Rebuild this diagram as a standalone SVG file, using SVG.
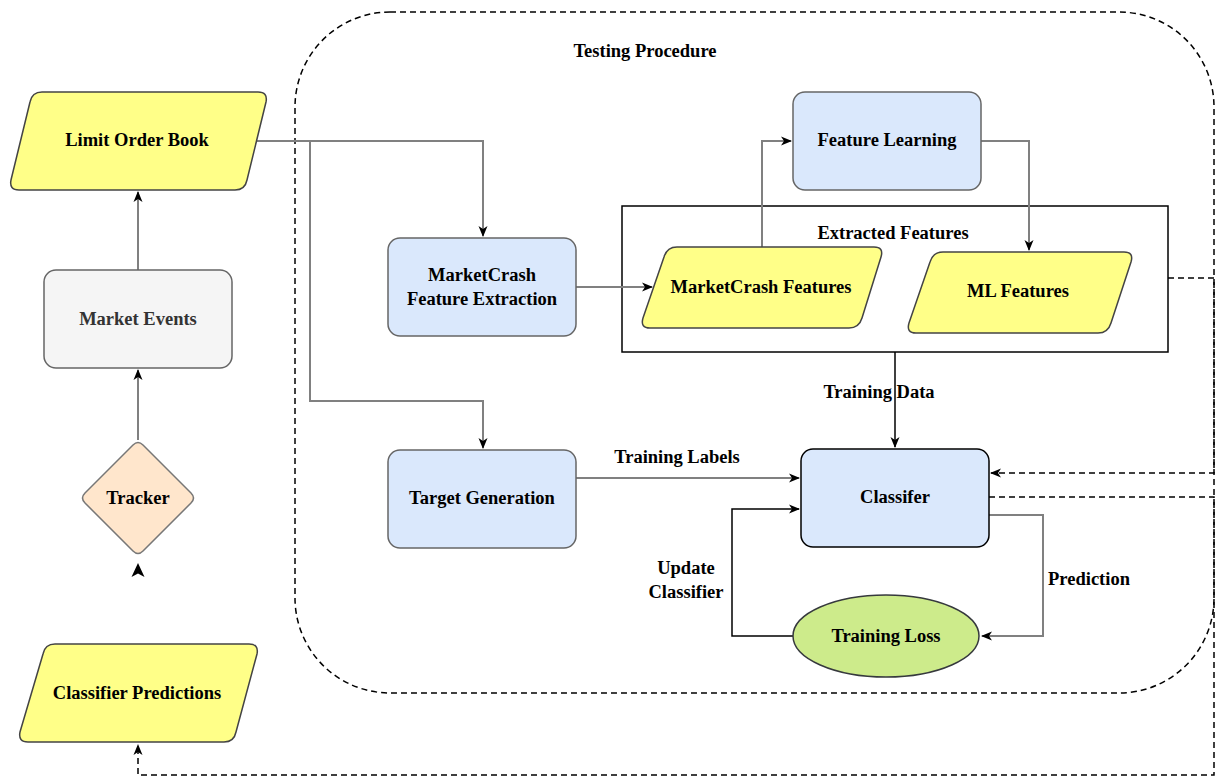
<svg xmlns="http://www.w3.org/2000/svg" width="1220" height="776" viewBox="0 0 1220 776">
<style>
text{font-family:"Liberation Serif","Times New Roman",serif;font-weight:bold;font-size:18.5px;fill:#000;text-anchor:middle}
.box{stroke:#666;stroke-width:1.5}
.blue{fill:#dae8fc}
.yel{fill:#ffff88;stroke:#444;stroke-width:1.5}
.g{fill:none;stroke:#808080;stroke-width:2}
.k{fill:none;stroke:#000;stroke-width:1.5}
.d{fill:none;stroke:#000;stroke-width:1.5;stroke-dasharray:6 4}
</style>
<defs>
<marker id="ag" markerUnits="userSpaceOnUse" markerWidth="12" markerHeight="10" refX="10" refY="5" orient="auto"><path d="M0,0.5 L11,5 L0,9.5 L3,5 Z" fill="#000"/></marker>
<marker id="ak" markerUnits="userSpaceOnUse" markerWidth="12" markerHeight="10" refX="10" refY="5" orient="auto"><path d="M0,0.5 L11,5 L0,9.5 L3,5 Z" fill="#000"/></marker>
</defs>
<rect x="295" y="12" width="919" height="681" rx="95" ry="95" class="d"/>
<text x="645" y="57">Testing  Procedure</text>

<g id="extracted-features">
<rect x="622" y="206" width="546" height="146" fill="#fff" stroke="#000" stroke-width="1.5"/>
<text x="893" y="239">Extracted Features</text>
</g>

<g id="connectors">
<path class="g" d="M257,141 H483 V236" marker-end="url(#ag)"/>
<path class="g" d="M310,141 V401 H483 V448" marker-end="url(#ag)"/>
<path class="g" d="M576,287 H652" marker-end="url(#ag)"/>
<path class="g" d="M762,247 V141 H791" marker-end="url(#ag)"/>
<path class="g" d="M981,141 H1029 V250" marker-end="url(#ag)"/>
<path class="k" d="M895,352 V447" marker-end="url(#ak)"/>
<path class="g" d="M576,478 H799" marker-end="url(#ag)"/>
<path class="g" d="M989,515 H1043 V636 H982" marker-end="url(#ag)"/>
<path class="k" d="M793,636 H732 V509 H799" marker-end="url(#ak)"/>
<path class="g" d="M138,440 V370" marker-end="url(#ag)"/>
<path class="g" d="M138,270 V192" marker-end="url(#ag)"/>
<path class="d" d="M1168,278 H1214 V473 H991" marker-end="url(#ak)"/>
<path class="d" d="M989,497 H1214 V775 H138 V745" marker-end="url(#ak)"/>
<path d="M138,563 L144.5,577 L138,573.5 L131.5,577 Z" fill="#000"/>
<text x="879" y="398">Training Data</text>
<text x="677" y="463">Training Labels</text>
<text x="1089" y="585">Prediction</text>
<text x="686" y="574">Update</text>
<text x="686" y="598">Classifier</text>
</g>

<g id="limit-order-book">
<path class="yel" d="M42,92 L258,92 Q268,92 266,102 L247,180 Q245,190 235,190 L19,190 Q9,190 11,180 L30,102 Q32,92 42,92 Z"/>
<text x="137" y="146">Limit Order Book</text>
</g>
<g id="market-events">
<rect x="44" y="270" width="188" height="98" rx="12" fill="#f5f5f5" stroke="#666" stroke-width="1.5"/>
<text x="138" y="325" style="fill:#333">Market Events</text>
</g>
<g id="tracker">
<path d="M133,445 Q138,440 143,445 L191,493 Q196,498 191,503 L143,551 Q138,556 133,551 L85,503 Q80,498 85,493 Z" fill="#ffe6cc" stroke="#777" stroke-width="1.5"/>
<text x="138" y="504">Tracker</text>
</g>
<g id="classifier-predictions">
<path class="yel" d="M55,644 L249,644 Q259,644 257,654 L236,732 Q234,742 224,742 L28,742 Q18,742 20,732 L43,654 Q45,644 55,644 Z"/>
<text x="137" y="699">Classifier Predictions</text>
</g>
<g id="feature-extraction">
<rect x="388" y="238" width="188" height="98" rx="12" class="box blue"/>
<text x="482" y="281">MarketCrash</text>
<text x="482" y="305">Feature Extraction</text>
</g>
<g id="target-generation">
<rect x="388" y="450" width="188" height="98" rx="12" class="box blue"/>
<text x="482" y="504">Target Generation</text>
</g>
<g id="feature-learning">
<rect x="793" y="92" width="188" height="98" rx="12" class="box blue"/>
<text x="887" y="146">Feature Learning</text>
</g>
<g id="marketcrash-features">
<path class="yel" d="M677,247 L874,247 Q884,247 881,257 L862,318 Q859,328 849,328 L650,328 Q640,328 643,318 L664,257 Q667,247 677,247 Z"/>
<text x="761" y="293">MarketCrash Features</text>
</g>
<g id="ml-features">
<path class="yel" d="M943,252 L1124,252 Q1134,252 1131,262 L1111,323 Q1108,333 1098,333 L916,333 Q906,333 909,323 L930,262 Q933,252 943,252 Z"/>
<text x="1018" y="297">ML Features</text>
</g>
<g id="classifier">
<rect x="801" y="449" width="188" height="98" rx="12" fill="#dae8fc" stroke="#000" stroke-width="1.5"/>
<text x="895" y="503">Classifer</text>
</g>
<g id="training-loss">
<ellipse cx="886" cy="636" rx="93" ry="41" fill="#cdeb8b" stroke="#36393d" stroke-width="1.5"/>
<text x="886" y="642">Training Loss</text>
</g>
</svg>
